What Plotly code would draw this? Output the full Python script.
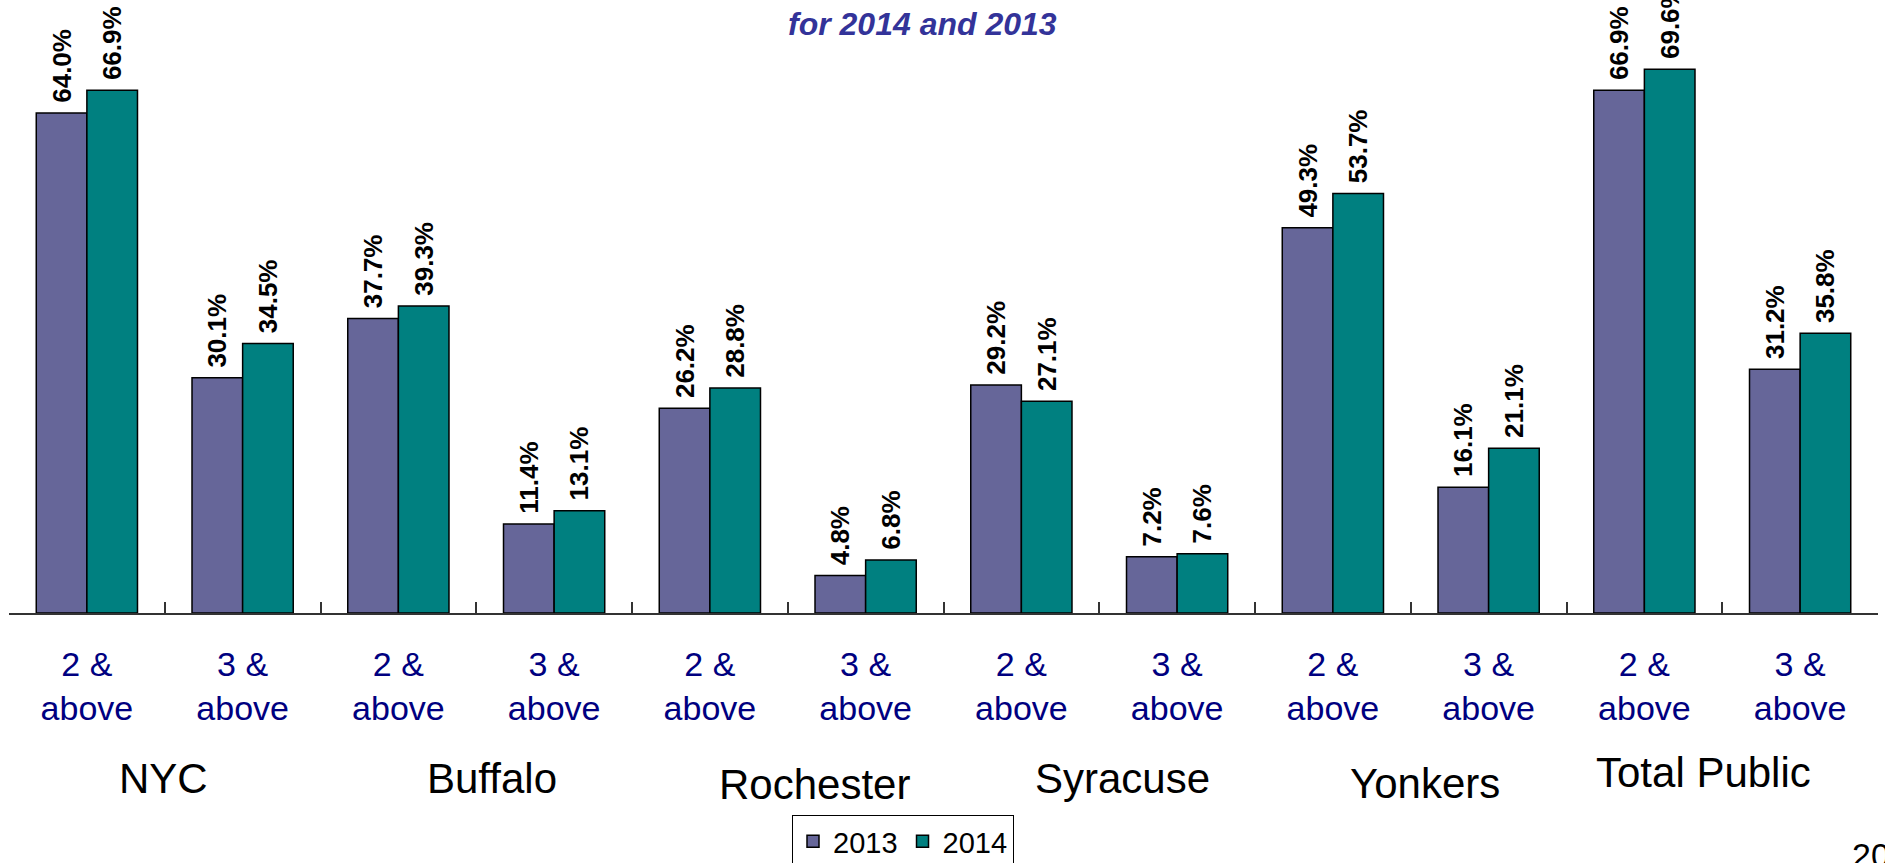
import plotly.graph_objects as go

# ---- data ----
groups = ["NYC", "Buffalo", "Rochester", "Syracuse", "Yonkers", "Total Public"]
levels = ["2 &<br>above", "3 &<br>above"]
categories = [f"{g}|{lv}" for g in groups for lv in levels]
tick_labels = [lv for g in groups for lv in levels]
v2013 = [64.0, 30.1, 37.7, 11.4, 26.2, 4.8, 29.2, 7.2, 49.3, 16.1, 66.9, 31.2]
v2014 = [66.9, 34.5, 39.3, 13.1, 28.8, 6.8, 27.1, 7.6, 53.7, 21.1, 69.6, 35.8]
subtitle = "for 2014 and 2013"
page_no = "20"

# ---- layout constants ----
W, H = 1885, 863
L, R, T, B = 9, 7, 0, 250
plot_h = H - T - B
px_per_unit = 7.8125
ymax = plot_h / px_per_unit

def py(pix):  # pixel row -> paper y
    return (plot_h - (pix - T)) / plot_h

def pxx(pix):  # pixel col -> paper x
    return (pix - L) / (W - L - R)

fig = go.Figure()
for name, vals, col in [("2013", v2013, "#666699"), ("2014", v2014, "#008080")]:
    fig.add_trace(go.Bar(
        x=categories, y=vals, name=name,
        marker=dict(color=col, line=dict(color="#000000", width=1.5)),
        texttemplate="\u00a0%{y:.1f}%", textposition="outside", textangle=-90,
        textfont=dict(family="Liberation Sans, Arial", size=26, color="#000000", weight="bold"),
        constraintext="none", cliponaxis=False,
    ))

annotations = []
group_nudge = [-0.01, 0.10, 0.17, 0.15, 0.09, -0.12]
group_top = [753, 753, 759, 753, 758, 747]
for i, g in enumerate(groups):
    annotations.append(dict(
        x=2 * i + 0.5 + group_nudge[i], xref="x", y=py(group_top[i]), yref="paper",
        text=g, showarrow=False, xanchor="center", yanchor="top",
        font=dict(family="Liberation Sans, Arial", size=42, color="#000000"),
    ))
annotations.append(dict(
    x=pxx(922), xref="paper", y=py(4), yref="paper", text=subtitle, showarrow=False,
    xanchor="center", yanchor="top",
    font=dict(family="Liberation Sans, Arial", size=32, color="#333399", weight="bold", style="italic"),
))
annotations.append(dict(
    x=pxx(1850), xref="paper", y=py(834), yref="paper", text=page_no, showarrow=False,
    xanchor="left", yanchor="top",
    font=dict(family="Liberation Sans, Arial", size=34, color="#000000"),
))

fig.update_layout(
    width=W, height=H,
    margin=dict(l=L, r=R, t=T, b=B, pad=0, autoexpand=False),
    paper_bgcolor="white", plot_bgcolor="white",
    barmode="group", bargap=0.35, bargroupgap=0,
    showlegend=True,
    legend=dict(
        orientation="h", x=pxx(792), xanchor="left", y=py(815), yanchor="top",
        bordercolor="#000000", borderwidth=1,
        font=dict(family="Liberation Sans, Arial", size=29, color="#000000"),
        traceorder="normal",
    ),
    annotations=annotations,
    xaxis=dict(
        type="category", tickmode="array", tickvals=categories, ticktext=tick_labels,
        tickson="boundaries", ticks="inside", ticklen=11, tickcolor="#333333", tickwidth=1.5,
        showline=True, linecolor="#333333", linewidth=1.5,
        tickfont=dict(family="Liberation Sans, Arial", size=34, color="#000080"),
        ticklabelstandoff=20, showgrid=False, zeroline=False,
        range=[-0.5, 11.5],
    ),
    yaxis=dict(range=[0, ymax], visible=False, showgrid=False, zeroline=False),
)

fig.write_html("out.html", config={"displayModeBar": False},
               post_script="document.body.style.margin='0';")
